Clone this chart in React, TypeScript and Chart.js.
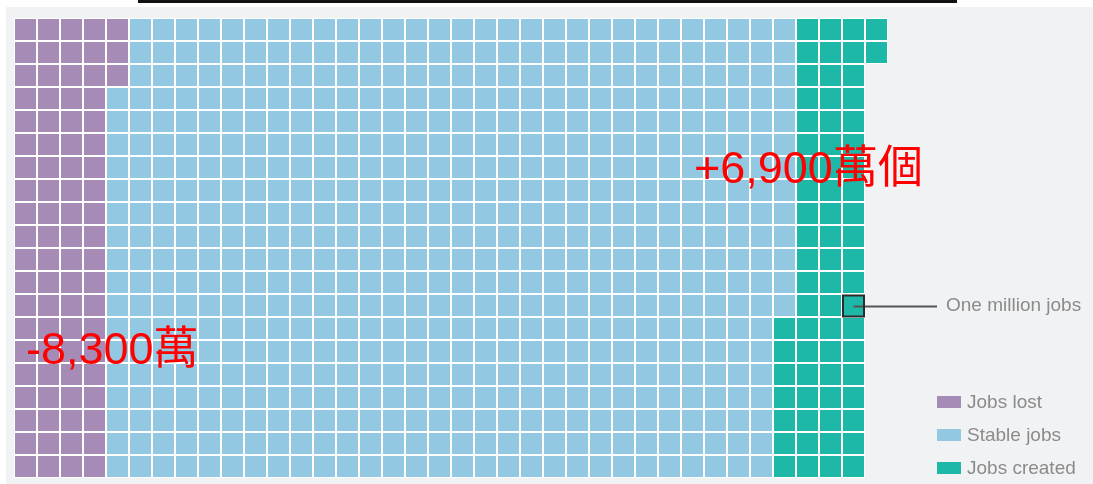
import React, { useEffect, useRef } from "react";
import { Chart, registerables } from "chart.js";

Chart.register(...registerables);

// ---- data (millions of jobs, one cell = one million jobs) ----
const categories = ["Jobs lost", "Stable jobs", "Jobs created"];
const jobsMillions = [83, 590, 69];
const categoryColors = ["#a58bb5", "#92c8e2", "#1eb8a9"];
const rowsPerColumn = 20;
const changeLabels = ["-8,300萬", "+6,900萬個"];
const calloutText = "One million jobs";
const calloutCellIndex = 732; // cell index (column-major) that is framed by the callout

const totalCells = jobsMillions.reduce((a, b) => a + b, 0);
const columnCount = Math.ceil(totalCells / rowsPerColumn);
const columnLabels = Array.from({ length: columnCount }, (_, c) => String(c));

function categoryOf(index: number): number {
  let acc = 0;
  for (let k = 0; k < jobsMillions.length; k++) {
    acc += jobsMillions[k];
    if (index < acc) return k;
  }
  return -1;
}

const rowDatasets = Array.from({ length: rowsPerColumn }, (_, r) => ({
  label: "row " + r,
  data: columnLabels.map((_, c) => (c * rowsPerColumn + r < totalCells ? 1 : null)),
  backgroundColor: columnLabels.map((_, c) => {
    const k = categoryOf(c * rowsPerColumn + r);
    return k >= 0 ? categoryColors[k] : "rgba(0,0,0,0)";
  }),
  borderColor: "#ffffff",
  borderWidth: 1,
  borderSkipped: false as const,
  inflateAmount: 0,
  barPercentage: 1,
  categoryPercentage: 1,
}));

const decorPlugin = {
  id: "decor",
  beforeDraw(chart: any) {
    const ctx = chart.ctx as CanvasRenderingContext2D;
    ctx.save();
    ctx.fillStyle = "#ffffff";
    ctx.fillRect(0, 0, chart.width, chart.height);
    ctx.fillStyle = "#f1f2f4";
    ctx.fillRect(6, 7, chart.width - 6, chart.height - 7);
    ctx.fillStyle = "#111111";
    ctx.fillRect(138, 0, 819, 3);
    ctx.restore();
  },
  afterDraw(chart: any) {
    const ctx = chart.ctx as CanvasRenderingContext2D;
    const xs = chart.scales.x;
    const ys = chart.scales.y;
    ctx.save();

    // callout frame around one cell
    const col = Math.floor(calloutCellIndex / rowsPerColumn);
    const row = calloutCellIndex % rowsPerColumn;
    const cx = xs.getPixelForValue(col);
    const half = (xs.getPixelForValue(1) - xs.getPixelForValue(0)) / 2;
    const top = ys.getPixelForValue(row);
    const bottom = ys.getPixelForValue(row + 1);
    const midY = Math.round((top + bottom) / 2) + 0.5;
    ctx.strokeStyle = "#555555";
    ctx.lineWidth = 2;
    ctx.beginPath();
    ctx.moveTo(cx, midY);
    ctx.lineTo(937, midY);
    ctx.stroke();
    ctx.strokeStyle = "#2b2b2b";
    ctx.strokeRect(cx - half + 1, top + 1.5, 2 * half - 2, bottom - top - 2);

    ctx.font = "19px 'Liberation Sans', Arial, sans-serif";
    ctx.fillStyle = "#8b8b8b";
    ctx.textBaseline = "middle";
    ctx.textAlign = "left";
    ctx.fillText(calloutText, 946, midY - 1);

    // legend
    categories.forEach((name, k) => {
      const y = 402 + k * 33;
      ctx.fillStyle = categoryColors[k];
      ctx.fillRect(937, y - 6, 24, 12);
      ctx.fillStyle = "#8b8b8b";
      ctx.fillText(name, 967, y + 1);
    });

    // red change labels
    ctx.font = "45px 'Liberation Sans', 'Noto Sans CJK TC', sans-serif";
    ctx.fillStyle = "#ff0000";
    ctx.textBaseline = "alphabetic";
    ctx.fillText(changeLabels[0], 26, 364);
    ctx.fillText(changeLabels[1], 694, 183);
    ctx.restore();
  },
};

export default function App() {
  const ref = useRef<HTMLCanvasElement | null>(null);
  useEffect(() => {
    document.body.style.margin = "0";
    if (!ref.current) return;
    const chart = new Chart(ref.current, {
      type: "bar",
      data: { labels: columnLabels, datasets: rowDatasets as any },
      options: {
        animation: false,
        responsive: false,
        devicePixelRatio: 1,
        layout: { padding: { left: 14, top: 18, right: 205, bottom: 6 } },
        plugins: { legend: { display: false }, tooltip: { enabled: false } },
        scales: {
          x: { display: false, stacked: true },
          y: { display: false, stacked: true, reverse: true, min: 0, max: rowsPerColumn },
        },
      },
      plugins: [decorPlugin],
    });
    return () => chart.destroy();
  }, []);
  return (
    <div style={{ width: 1093, height: 484 }}>
      <canvas ref={ref} width={1093} height={484} style={{ display: "block" }} />
    </div>
  );
}
